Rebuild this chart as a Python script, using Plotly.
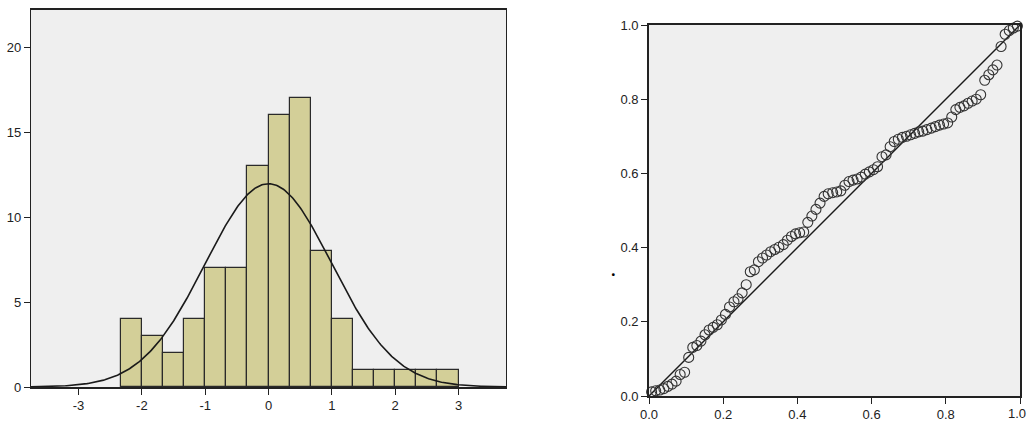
import numpy as np
import plotly.graph_objects as go

W, H = 1027, 421

# ---------------- Histogram data ----------------
bin_start = -7 / 3
bin_width = 1 / 3
counts = [4, 3, 2, 4, 7, 7, 13, 16, 17, 8, 4, 1, 1, 1, 1, 1]
fit_mean = 0.0
fit_sd = 1.0
n_total = sum(counts)
hist_xticks = [-3, -2, -1, 0, 1, 2, 3]
hist_yticks = [0, 5, 10, 15, 20]

# ---------------- P-P plot data ----------------
pp_observed = [0.007, 0.018, 0.029, 0.040, 0.051, 0.062, 0.073, 0.084, 0.096, 0.107,
               0.118, 0.129, 0.140, 0.151, 0.162, 0.173, 0.184, 0.195, 0.206, 0.217,
               0.229, 0.240, 0.251, 0.262, 0.273, 0.284, 0.295, 0.306, 0.317, 0.328,
               0.339, 0.350, 0.362, 0.373, 0.384, 0.395, 0.406, 0.417, 0.428, 0.439,
               0.450, 0.461, 0.472, 0.483, 0.495, 0.506, 0.517, 0.528, 0.539, 0.550,
               0.561, 0.572, 0.583, 0.594, 0.605, 0.616, 0.628, 0.639, 0.650, 0.661,
               0.672, 0.683, 0.694, 0.705, 0.716, 0.727, 0.738, 0.749, 0.761, 0.772,
               0.783, 0.794, 0.805, 0.816, 0.827, 0.838, 0.849, 0.860, 0.871, 0.882,
               0.894, 0.905, 0.916, 0.927, 0.938, 0.949, 0.960, 0.971, 0.982, 0.993]
pp_expected = [0.011, 0.014, 0.016, 0.020, 0.026, 0.032, 0.040, 0.058, 0.064, 0.104,
               0.131, 0.136, 0.148, 0.165, 0.178, 0.185, 0.192, 0.205, 0.220, 0.240,
               0.254, 0.262, 0.278, 0.300, 0.335, 0.340, 0.362, 0.372, 0.380, 0.389,
               0.395, 0.401, 0.408, 0.420, 0.430, 0.437, 0.440, 0.442, 0.468, 0.485,
               0.503, 0.520, 0.538, 0.545, 0.548, 0.550, 0.553, 0.568, 0.578, 0.582,
               0.585, 0.590, 0.598, 0.604, 0.610, 0.618, 0.645, 0.650, 0.672, 0.686,
               0.692, 0.697, 0.700, 0.704, 0.708, 0.712, 0.714, 0.718, 0.722, 0.726,
               0.730, 0.733, 0.736, 0.752, 0.772, 0.778, 0.782, 0.789, 0.795, 0.800,
               0.812, 0.851, 0.866, 0.879, 0.892, 0.942, 0.975, 0.985, 0.992, 0.997]
ref_line = [0.0, 1.0]
pp_ticks = [0.0, 0.2, 0.4, 0.6, 0.8, 1.0]
pp_ticktext = ["0.0", "0.2", "0.4", "0.6", "0.8", "1.0"]

# ---------------- Figure ----------------
fig = go.Figure()

centers = [bin_start + bin_width * (i + 0.5) for i in range(len(counts))]
fig.add_trace(go.Bar(
    x=centers, y=counts, width=bin_width,
    marker=dict(color="#D3CF98", line=dict(color="#2a2a2a", width=1.2)),
    xaxis="x", yaxis="y", showlegend=False,
))

xs = np.linspace(-3.75, 3.75, 400)
ys = n_total * bin_width / (fit_sd * np.sqrt(2 * np.pi)) * np.exp(-0.5 * ((xs - fit_mean) / fit_sd) ** 2)
fig.add_trace(go.Scatter(
    x=xs, y=ys, mode="lines", line=dict(color="#1a1a1a", width=1.6),
    xaxis="x", yaxis="y", showlegend=False,
))

fig.add_trace(go.Scatter(
    x=ref_line, y=ref_line, mode="lines", line=dict(color="#1a1a1a", width=1.4),
    xaxis="x2", yaxis="y2", showlegend=False,
))
fig.add_trace(go.Scatter(
    x=pp_observed, y=pp_expected, mode="markers",
    marker=dict(symbol="circle-open", size=10, color="#333333", line=dict(width=1.1)),
    xaxis="x2", yaxis="y2", showlegend=False, cliponaxis=False,
))

tickfont = dict(family="Liberation Sans, Arial, sans-serif", size=13, color="#222222")

def dom_x(a, b):
    return [a / W, b / W]

def dom_y(top, bottom):
    return [(H - bottom) / H, (H - top) / H]

common = dict(ticks="outside", ticklen=6, tickcolor="#222", tickwidth=1.2,
              showline=True, linecolor="#222", mirror=True, automargin=False,
              showgrid=False, zeroline=False, tickfont=tickfont,
              ticklabeloverflow="allow")

# last x tick label of the P-P plot is placed as an annotation so it stays inside the page
x2_ticktext = pp_ticktext[:-1] + [""]

fig.update_layout(
    template="none",
    width=W, height=H,
    margin=dict(l=0, r=0, t=0, b=0, pad=0),
    paper_bgcolor="white",
    plot_bgcolor="#EFEFEF",
    bargap=0,
    xaxis=dict(domain=dom_x(31, 506), range=[-3.75, 3.75], tickvals=hist_xticks,
               ticktext=[str(v) for v in hist_xticks], linewidth=1.6, anchor="y", **common),
    yaxis=dict(domain=dom_y(10, 387), range=[0, 22.2], tickvals=hist_yticks,
               linewidth=1.4, anchor="x", **common),
    xaxis2=dict(domain=dom_x(649, 1020), range=[0, 1], tickvals=pp_ticks,
                ticktext=x2_ticktext, linewidth=1.6, anchor="y2", **common),
    yaxis2=dict(domain=dom_y(25, 396), range=[0, 1], tickvals=pp_ticks,
                ticktext=pp_ticktext, linewidth=1.6, anchor="x2", **common),
    annotations=[
        dict(text="<b>.</b>", x=613 / W, y=(H - 270) / H, xref="paper", yref="paper",
             showarrow=False, font=dict(size=16, color="black")),
        dict(text=pp_ticktext[-1], x=1.0, xref="paper", xanchor="right",
             y=(H - 405) / H, yref="paper", yanchor="top",
             showarrow=False, font=tickfont, borderpad=0),
    ],
)

fig.write_html("out.html")
